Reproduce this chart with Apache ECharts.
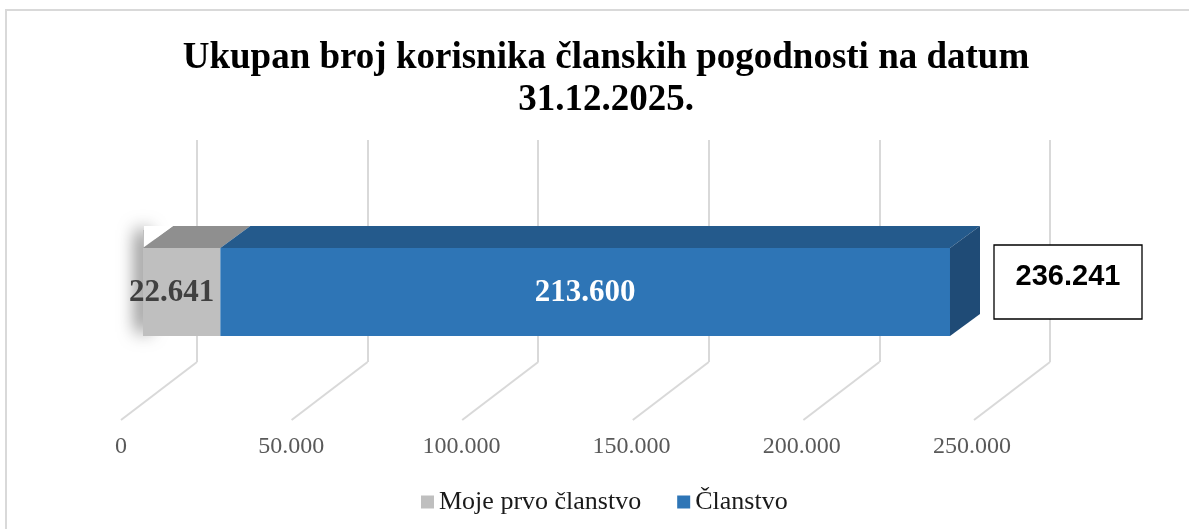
<!DOCTYPE html>
<html>
<head>
<meta charset="utf-8">
<script src="https://cdn.jsdelivr.net/npm/echarts@6/dist/echarts.min.js"></script>
<style>
  html, body { margin: 0; background: #fff; }
  #chart { width: 1189px; height: 529px; }
</style>
</head>
<body>
<div id="chart"></div>
<script>
// podaci
const categories = ['Korisnici'];
const mojePrvoClanstvo = [22641];
const clanstvo = [213600];
const axisTicks = [0, 50000, 100000, 150000, 200000, 250000];
const axisMax = 250000;
const axisStep = 50000;

const fmt = v => String(v).replace(/\B(?=(\d{3})+(?!\d))/g, '.');

// pseudo 3D pomaci (px)
const DX = 30, DY = -22;
const FLOOR_DX = -76, FLOOR_DY = 58;
const gridColor = '#d9d9d9';

function barItem(startArr, valArr, colors, opts) {
  return function (params, api) {
    const i = params.dataIndex;
    const s = startArr ? startArr[i] : 0;
    const e = s + valArr[i];
    const p0 = api.coord([s, i]);
    const p1 = api.coord([e, i]);
    const h = api.size([0, 1])[1];
    const y0 = p0[1] - h / 2, y1 = p0[1] + h / 2;
    const children = [];
    if (opts.shadow) {
      // sjena uz lijevi rub stupca
      children.push({
        type: 'rect',
        shape: { x: p0[0], y: y0 + DY + 4, width: 12, height: h - DY - 8 },
        style: { fill: '#bfbfbf', shadowBlur: 18, shadowOffsetX: -6, shadowColor: 'rgba(0,0,0,0.6)' }
      });
    }
    children.push({
      type: 'rect',
      shape: { x: p0[0], y: y0, width: p1[0] - p0[0], height: h },
      style: { fill: colors.front }
    });
    children.push({
      type: 'polygon',
      shape: { points: [[p0[0], y0], [p1[0], y0], [p1[0] + DX, y0 + DY], [p0[0] + DX, y0 + DY]] },
      style: { fill: colors.top }
    });
    if (opts.shadow) {
      // prekrij sjenu iznad gornje plohe bijelom bojom samo desno od ruba
      children.push({
        type: 'polygon',
        shape: { points: [[p0[0] + 1, y0 - 1], [p0[0] + DX, y0 + DY], [p0[0] + 1, y0 + DY]] },
        style: { fill: '#fff' }
      });
    }
    if (opts.side) {
      children.push({
        type: 'polygon',
        shape: { points: [[p1[0], y0], [p1[0] + DX, y0 + DY], [p1[0] + DX, y1 + DY], [p1[0], y1]] },
        style: { fill: colors.side }
      });
    }
    const lx = opts.labelAlign === 'right' ? p1[0] - 6 : (p0[0] + p1[0]) / 2;
    children.push({
      type: 'text',
      style: {
        text: fmt(valArr[i]), x: lx, y: p0[1] + 1,
        align: opts.labelAlign || 'center', verticalAlign: 'middle',
        fill: opts.labelColor, font: 'bold 31px "Liberation Serif"'
      }
    });
    if (opts.total) {
      const total = mojePrvoClanstvo[i] + clanstvo[i];
      const bx = p1[0] + 44, by = y0 - 3;
      children.push({
        type: 'rect',
        shape: { x: bx, y: by, width: 148, height: 74 },
        style: { fill: '#fff', stroke: '#000', lineWidth: 1.3 }
      });
      children.push({
        type: 'text',
        style: {
          text: fmt(total), x: bx + 74, y: by + 32,
          align: 'center', verticalAlign: 'middle',
          fill: '#000', font: 'bold 29px "Liberation Sans"'
        }
      });
    }
    return { type: 'group', children };
  };
}

const chart = echarts.init(document.getElementById('chart'));

chart.setOption({
  animation: false,
  backgroundColor: '#fff',
  graphic: [{
    type: 'rect', z: -10, silent: true,
    shape: { x: 6, y: 10, width: 1200, height: 540 },
    style: { fill: 'none', stroke: gridColor, lineWidth: 2 }
  }],
  title: {
    text: 'Ukupan broj korisnika članskih pogodnosti na datum\n31.12.2025.',
    left: 601, textAlign: 'center', top: 32,
    textStyle: { fontFamily: 'Liberation Serif', fontWeight: 'bold', fontSize: 37, lineHeight: 42, color: '#000' }
  },
  legend: {
    data: ['Moje prvo članstvo', 'Članstvo'],
    left: 416, top: 484,
    icon: 'rect', itemWidth: 13, itemHeight: 13, itemGap: 36,
    textStyle: { fontFamily: 'Liberation Serif', fontSize: 26, color: '#1a1a1a' }
  },
  grid: [
    { left: 197, top: 140, width: 853, height: 222 },   // straznji zid
    { left: 121, top: 300, width: 851, height: 132 },   // oznake osi (prednji rub poda)
    { left: 143, top: 248, width: 854, height: 88 }     // prednja ploha stupca
  ],
  xAxis: [
    {
      gridIndex: 0, type: 'value', min: 0, max: axisMax, interval: axisStep,
      axisLine: { show: false }, axisTick: { show: false }, axisLabel: { show: false },
      splitLine: { show: true, lineStyle: { color: gridColor, width: 2 } }
    },
    {
      gridIndex: 1, type: 'value', min: 0, max: axisMax, interval: axisStep,
      axisLine: { show: false }, axisTick: { show: false }, splitLine: { show: false },
      axisLabel: { margin: 3, formatter: fmt, color: '#595959', fontFamily: 'Liberation Serif', fontSize: 24 }
    },
    {
      gridIndex: 2, type: 'value', min: 0, max: axisMax, interval: axisStep,
      show: false, splitLine: { show: false }
    }
  ],
  yAxis: [
    { gridIndex: 0, type: 'value', min: 0, max: 1, show: false, splitLine: { show: false } },
    { gridIndex: 1, type: 'value', min: 0, max: 1, show: false, splitLine: { show: false } },
    { gridIndex: 2, type: 'category', data: categories, show: false }
  ],
  series: [
    {
      type: 'custom', name: 'pod', xAxisIndex: 0, yAxisIndex: 0, silent: true,
      data: axisTicks.map(v => [v, 0]),
      renderItem: function (params, api) {
        const p = api.coord([api.value(0), 0]);
        return {
          type: 'line',
          shape: { x1: p[0], y1: p[1], x2: p[0] + FLOOR_DX, y2: p[1] + FLOOR_DY },
          style: { stroke: gridColor, lineWidth: 2 }
        };
      }
    },
    {
      type: 'custom', name: 'Moje prvo članstvo', xAxisIndex: 2, yAxisIndex: 2,
      itemStyle: { color: '#bfbfbf' },
      data: mojePrvoClanstvo.map((v, i) => [v, i]),
      renderItem: barItem(null, mojePrvoClanstvo,
        { front: '#bfbfbf', top: '#8f8f8f' },
        { labelAlign: 'right', labelColor: '#404040', shadow: true })
    },
    {
      type: 'custom', name: 'Članstvo', xAxisIndex: 2, yAxisIndex: 2,
      itemStyle: { color: '#2e75b6' },
      data: clanstvo.map((v, i) => [v, i]),
      renderItem: barItem(mojePrvoClanstvo, clanstvo,
        { front: '#2e75b6', top: '#245a8c', side: '#1f4b76' },
        { side: true, total: true, labelColor: '#fff' })
    }
  ]
});
</script>
</body>
</html>
